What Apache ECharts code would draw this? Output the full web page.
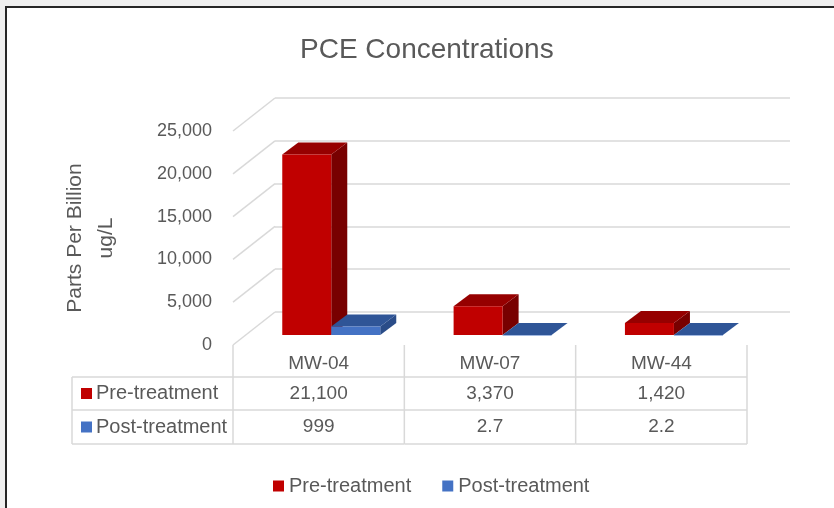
<!DOCTYPE html>
<html>
<head>
<meta charset="utf-8">
<script src="https://cdn.jsdelivr.net/npm/echarts@6/dist/echarts.min.js"></script>
<style>
html,body{margin:0;padding:0;background:#ffffff;}
#chart{width:834px;height:508px;}
</style>
</head>
<body>
<div id="chart"></div>
<script>
// ---- data ----
const categories = ['MW-04', 'MW-07', 'MW-44'];
const preTreatment = [21100, 3370, 1420];
const postTreatment = [999, 2.7, 2.2];
const seriesNames = ['Pre-treatment', 'Post-treatment'];
const yMin = 0, yMax = 25000, yInterval = 5000;
const yTicks = [0, 5000, 10000, 15000, 20000, 25000];
const titleText = 'PCE Concentrations';
const yAxisName = 'Parts Per Billion\nug/L';

// ---- styles ----
const FONT = "'Liberation Sans', Arial, sans-serif";
const TXT = '#595959';
const GRID_C = '#d9d9d9';
const DEPTH = [42, -33];          // floor depth vector
const BAR_T = 0.3;                // bar front position in depth
const BAR_D = [16, -12];          // bar depth
const BAR_FRAC = 0.286;           // bar width as fraction of band
const faceColors = [
  {front: '#C00000', top: '#960000', side: '#780000'},
  {front: '#4472C4', top: '#2F5597', side: '#2A4C88'}
];
const fmt = v => v.toLocaleString('en-US');

const chart = echarts.init(document.getElementById('chart'), null, {renderer: 'canvas'});

function barItem(sIdx) {
  return function (params, api) {
    const i = api.value(0), v = api.value(1);
    const base = api.coord([i, 0]);
    const top = api.coord([i, v]);
    const bw = api.size([1, 0])[0] * BAR_FRAC;
    const tx = DEPTH[0] * BAR_T, ty = DEPTH[1] * BAR_T;
    const x0 = base[0] + tx - (sIdx === 0 ? bw : 0);
    const x1 = x0 + bw;
    const yb = base[1] + ty, yt = top[1] + ty;
    const [dx, dy] = BAR_D;
    const c = faceColors[sIdx];
    return {
      type: 'group',
      children: [
        {type: 'polygon', shape: {points: [[x1, yb], [x1 + dx, yb + dy], [x1 + dx, yt + dy], [x1, yt]]}, style: {fill: c.side}},
        {type: 'polygon', shape: {points: [[x0, yt], [x0 + dx, yt + dy], [x1 + dx, yt + dy], [x1, yt]]}, style: {fill: c.top}},
        {type: 'rect', shape: {x: x0, y: yt, width: bw, height: Math.max(yb - yt, 0.5)}, style: {fill: c.front}}
      ]
    };
  };
}

const tableLeft = 72;
const rowOff = [32, 65, 99];
function tableItem(params, api) {
  const i = api.value(0);
  const c = api.coord([i, 0]);
  const bandW = api.size([1, 0])[0];
  const xL = c[0] - bandW / 2, xR = c[0] + bandW / 2;
  const y0 = c[1];
  const r = rowOff.map(o => y0 + o);
  const ls = {stroke: GRID_C, lineWidth: 1.5};
  const ch = [];
  ch.push({type: 'line', shape: {x1: xL, y1: y0, x2: xL, y2: r[2]}, style: ls});
  if (i === categories.length - 1) ch.push({type: 'line', shape: {x1: xR, y1: y0, x2: xR, y2: r[2]}, style: ls});
  r.forEach(y => ch.push({type: 'line', shape: {x1: xL, y1: y, x2: xR, y2: y}, style: ls}));
  const vals = [preTreatment[i], postTreatment[i]];
  vals.forEach((v, k) => {
    ch.push({type: 'text', x: c[0], y: (r[k] + r[k + 1]) / 2,
      style: {text: fmt(v), fill: TXT, font: '19px ' + FONT, align: 'center', verticalAlign: 'middle'}});
  });
  if (i === 0) {
    r.forEach(y => ch.push({type: 'line', shape: {x1: tableLeft, y1: y, x2: xL, y2: y}, style: ls}));
    ch.push({type: 'line', shape: {x1: tableLeft, y1: r[0], x2: tableLeft, y2: r[2]}, style: ls});
    seriesNames.forEach((n, k) => {
      const cy = (r[k] + r[k + 1]) / 2;
      ch.push({type: 'rect', shape: {x: tableLeft + 9, y: cy - 5.5, width: 11, height: 11}, style: {fill: faceColors[k].front}});
      ch.push({type: 'text', x: tableLeft + 24, y: cy,
        style: {text: n, fill: TXT, font: '20px ' + FONT, align: 'left', verticalAlign: 'middle'}});
    });
  }
  return {type: 'group', children: ch};
}

function diagItem(params, api) {
  const v = api.value(1);
  const p = api.coord([0, v]);
  const bandW = api.size([1, 0])[0];
  const x = p[0] - bandW / 2;
  return {type: 'line', shape: {x1: x, y1: p[1], x2: x + DEPTH[0], y2: p[1] + DEPTH[1]},
    style: {stroke: GRID_C, lineWidth: 1.5}};
}

const option = {
  animation: false,
  backgroundColor: '#ffffff',
  title: {
    text: titleText, left: 295, top: 31,
    textStyle: {fontFamily: FONT, fontSize: 28, fontWeight: 'normal', color: TXT}
  },
  legend: {
    data: seriesNames, left: 268, top: 471,
    icon: 'rect', itemWidth: 11, itemHeight: 11, itemGap: 31,
    textStyle: {fontFamily: FONT, fontSize: 20, color: TXT}
  },
  graphic: [
    {type: 'rect', z: -10, shape: {x: 0, y: 0, width: 834, height: 508}, style: {fill: '#efefef'}},
    {type: 'rect', z: -9, shape: {x: 6, y: 7, width: 900, height: 600}, style: {fill: '#ffffff', stroke: '#262626', lineWidth: 2}}
  ],
  grid: [
    {left: 233, right: 87, top: 131, bottom: 163},
    {left: 275, right: 44, top: 98, bottom: 196}
  ],
  xAxis: [
    {type: 'category', gridIndex: 0, data: categories,
      axisLine: {show: false}, axisTick: {show: false},
      axisLabel: {margin: 9, fontFamily: FONT, fontSize: 19, color: TXT}},
    {type: 'category', gridIndex: 1, data: categories, show: false}
  ],
  yAxis: [
    {type: 'value', gridIndex: 0, min: yMin, max: yMax, interval: yInterval,
      splitLine: {show: false}, axisLine: {show: false}, axisTick: {show: false},
      axisLabel: {margin: 21, fontFamily: FONT, fontSize: 18, color: TXT, formatter: v => fmt(v)},
      name: yAxisName, nameLocation: 'middle', nameRotate: 90, nameGap: 111,
      nameTextStyle: {fontFamily: FONT, fontSize: 21, color: TXT, lineHeight: 31, align: 'center'}},
    {type: 'value', gridIndex: 1, min: yMin, max: yMax, interval: yInterval,
      axisLabel: {show: false}, axisLine: {show: false}, axisTick: {show: false},
      splitLine: {show: true, lineStyle: {color: GRID_C, width: 1.5}}}
  ],
  series: [
    {type: 'custom', name: 'grid-diag', xAxisIndex: 0, yAxisIndex: 0, silent: true, z: 1,
      renderItem: diagItem, data: yTicks.map(v => [0, v])},
    {type: 'custom', name: seriesNames[0], xAxisIndex: 0, yAxisIndex: 0, z: 3,
      itemStyle: {color: faceColors[0].front},
      renderItem: barItem(0), data: preTreatment.map((v, i) => [i, v])},
    {type: 'custom', name: seriesNames[1], xAxisIndex: 0, yAxisIndex: 0, z: 4,
      itemStyle: {color: faceColors[1].front},
      renderItem: barItem(1), data: postTreatment.map((v, i) => [i, v])},
    {type: 'custom', name: 'table', xAxisIndex: 0, yAxisIndex: 0, silent: true, z: 2,
      renderItem: tableItem, data: categories.map((c, i) => [i, 0])}
  ]
};
chart.setOption(option);
</script>
</body>
</html>
